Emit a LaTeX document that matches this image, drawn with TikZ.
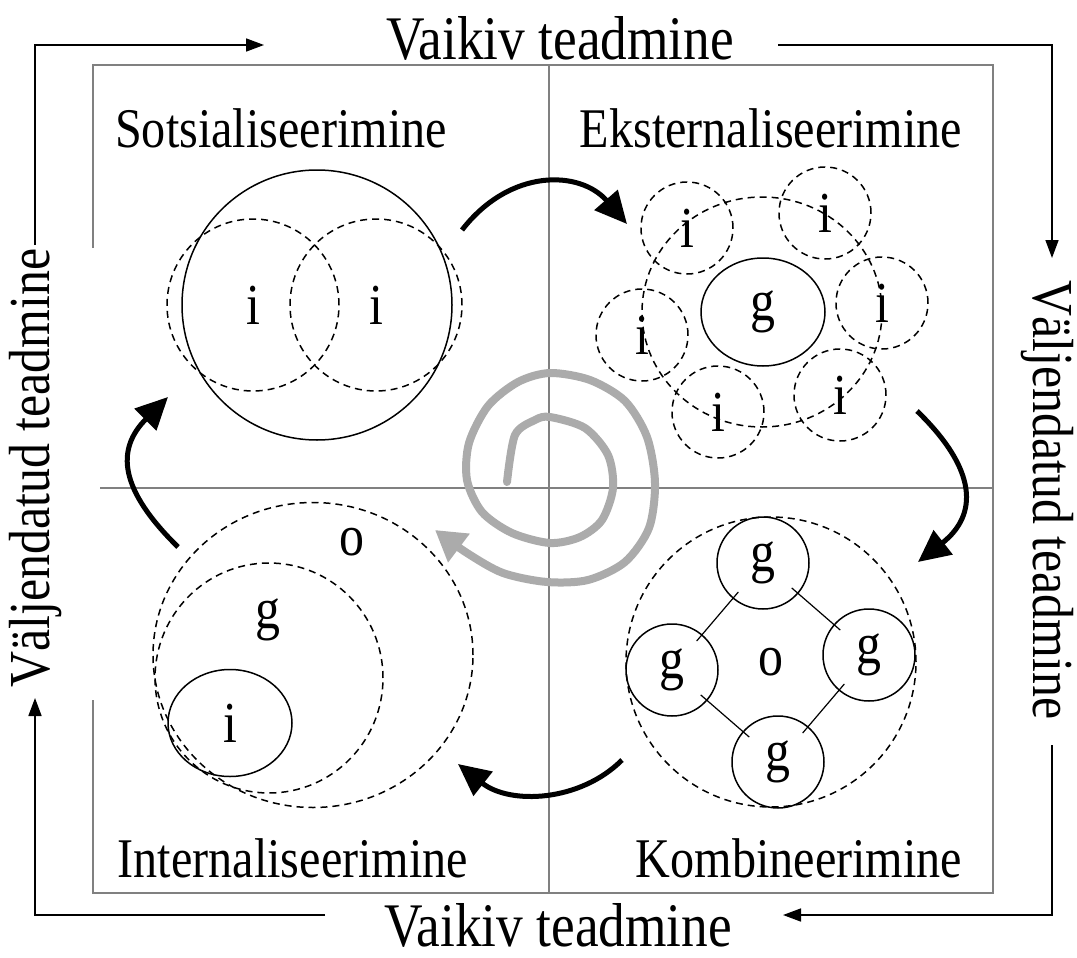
\documentclass[tikz,border=0pt]{standalone}
\usepackage{fontspec}
\setmainfont{Liberation Serif}
\newfontfamily\diagfont[FakeStretch=0.86]{Liberation Serif}
\usetikzlibrary{arrows.meta, shapes.geometric}

\begin{document}
\begin{tikzpicture}[
  x=1pt, y=-1pt,
  every node/.style={font=\diagfont\fontsize{58}{58}\selectfont, inner sep=0pt},
  outer/.style={font=\diagfont\fontsize{62}{62}\selectfont},
  title/.style={font=\diagfont\fontsize{56}{56}\selectfont},
  frame/.style={draw=black!50, line width=1.6pt},
  flow/.style={draw, line width=1.6pt, -{Triangle[length=18pt,width=13pt]}},
  turn/.style={line width=5pt, -{Triangle[length=32pt,width=30pt]}},
  spiral/.style={draw=black!33, line width=8pt, line cap=round, line join=round,
                 -{Triangle[length=30pt,width=34pt]}},
  dcirc/.style={draw, ellipse, dash pattern=on 7pt off 5pt, line width=1.5pt},
  scirc/.style={draw, ellipse, line width=1.5pt},
  small/.style={minimum size=92pt},
  link/.style={draw, line width=1.2pt, shorten <=38pt, shorten >=38pt},
]
\useasboundingbox (0,0) rectangle (1077,958);

% frame and quadrants
\draw[frame] (93,248) -- (93,65) -- (993,65) -- (993,893) -- (93,893) -- (93,700);
\draw[frame] (549,65) -- (549,893);
\draw[frame] (100,488) -- (993,488);

% outer labels
\node[outer] (vtop) at (560,38) {Vaikiv teadmine};
\node[outer] (vbot) at (558,925) {Vaikiv teadmine};
\node[rotate=90]  (vleft)  at (36,468)  {Väljendatud teadmine};
\node[rotate=-90] (vright) at (1047,500) {Väljendatud teadmine};

\coordinate (tl0) at (35,245);  \coordinate (tl) at (35,45);   \coordinate (tl1) at (264,45);
\coordinate (tr0) at (778,45);  \coordinate (tr) at (1052,45); \coordinate (tr1) at (1052,258);
\coordinate (br0) at (1052,745); \coordinate (br) at (1052,915); \coordinate (br1) at (783,915);
\coordinate (bl0) at (325,915); \coordinate (bl) at (35,915);  \coordinate (bl1) at (35,698);
\draw[flow] (tl0) -- (tl) -- (tl1);
\draw[flow] (tr0) -- (tr) -- (tr1);
\draw[flow] (br0) -- (br) -- (br1);
\draw[flow] (bl0) -- (bl) -- (bl1);

% quadrant titles
\node[title] (soc)  at (281,128) {Sotsialiseerimine};
\node[title] (ext)  at (771,128) {Eksternaliseerimine};
\node[title] (int)  at (293,858) {Internaliseerimine};
\node[title] (komb) at (799,858) {Kombineerimine};

% socialisation
\node[scirc, minimum size=270pt] (sbig) at (317,305) {};
\node[dcirc, minimum size=172pt] (si1) at (253,305) {i};
\node[dcirc, minimum size=172pt] (si2) at (376,305) {i};

% externalisation
\node[dcirc, minimum width=240pt, minimum height=230pt] (egrp) at (762,312) {};
\node[scirc, minimum width=124pt, minimum height=108pt] (eg) at (763,312) {g};
\node[dcirc, small] (ei1) at (687,228) {i};
\node[dcirc, small] (ei2) at (825,213) {i};
\node[dcirc, small] (ei3) at (642,335) {i};
\node[dcirc, small] (ei4) at (882,303) {i};
\node[dcirc, small] (ei5) at (718,412) {i};
\node[dcirc, small] (ei6) at (840,395) {i};

% internalisation
\node[dcirc, minimum width=320pt, minimum height=305pt] (iorg) at (313,655) {};
\node[dcirc, minimum width=228pt, minimum height=230pt] (igrp) at (269,678) {};
\node[scirc, minimum width=124pt, minimum height=107pt] (iind) at (230,723) {i};
\node (io) at (352,542) {o};
\node (ig) at (268,620) {g};

% combination
\node[dcirc, minimum size=290pt] (korg) at (771,662) {o};
\node[scirc, small] (kgt) at (763,563) {g};
\node[scirc, small] (kgl) at (672,670) {g};
\node[scirc, small] (kgr) at (869,655) {g};
\node[scirc, small] (kgb) at (778,762) {g};
\draw[link] (kgt.center) -- (kgl.center);
\draw[link] (kgt.center) -- (kgr.center);
\draw[link] (kgl.center) -- (kgb.center);
\draw[link] (kgr.center) -- (kgb.center);

% cycle arrows
\coordinate (a1) at (462,230); \coordinate (b1) at (627,224);
\coordinate (a2) at (917,411); \coordinate (b2) at (918,562);
\coordinate (a3) at (622,760); \coordinate (b3) at (458,764);
\coordinate (a4) at (178,547); \coordinate (b4) at (168,397);
\draw[turn] (a1) .. controls (510,168) and (580,170) .. (b1);
\draw[turn] (a2) .. controls (978,470) and (978,515) .. (b2);
\draw[turn] (a3) .. controls (580,802) and (510,805) .. (b3);
\draw[turn] (a4) .. controls (120,490) and (115,450) .. (b4);

% spiral
\draw[spiral] plot[smooth] coordinates {(507,482) (515,435) (535,420) (550,417)
  (585,428) (608,455) (613,488) (602,520) (580,537) (550,543) (512,533)
  (482,512) (467,480) (469,443) (488,406) (518,382) (550,373) (590,380)
  (625,401) (647,437) (655,483) (649,528) (625,562) (588,580) (547,582)
  (503,573) (467,553) (435,530)};
\end{tikzpicture}
\end{document}
